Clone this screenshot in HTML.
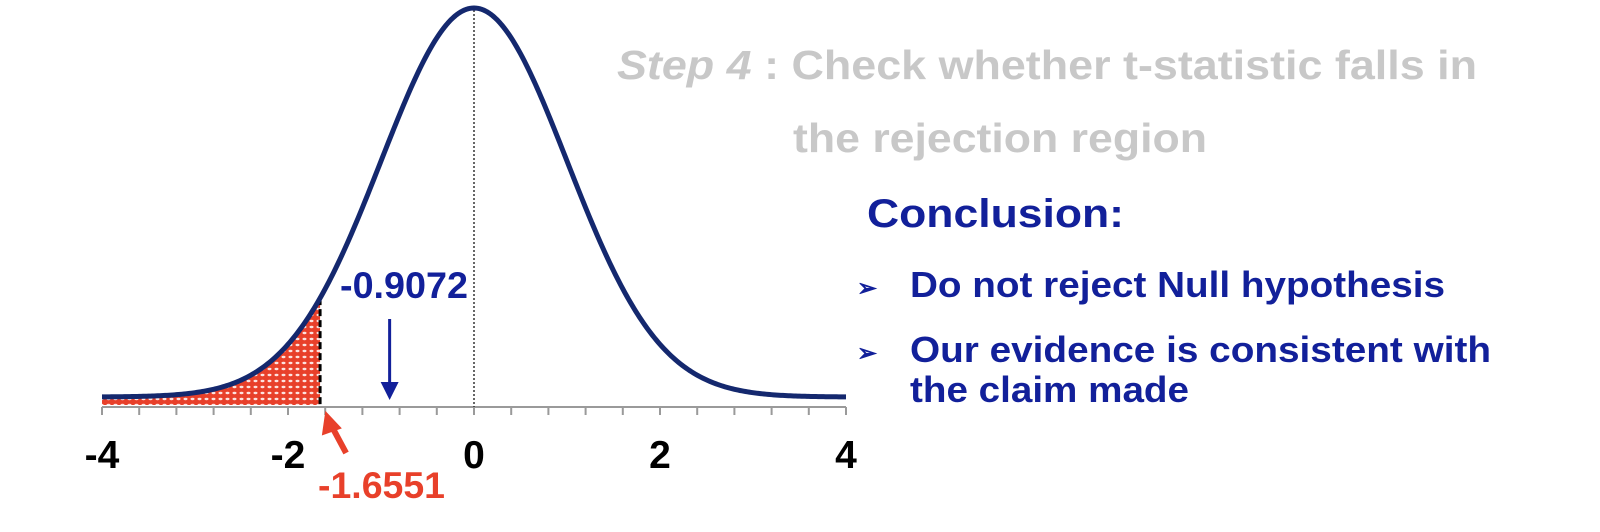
<!DOCTYPE html>
<html><head><meta charset="utf-8"><style>
html,body{margin:0;padding:0;background:#fff;width:1600px;height:532px;overflow:hidden}
svg{display:block}
text{font-family:"Liberation Sans",Arial,sans-serif;font-weight:bold}
</style></head><body>
<svg id="chart" width="1600" height="532" viewBox="0 0 1600 532">
<defs>
<pattern id="dots" width="7" height="6" patternUnits="userSpaceOnUse">
<rect width="7" height="6" fill="#e8402a"/>
<ellipse cx="3.5" cy="3" rx="2" ry="1.2" fill="#ffffff" opacity="0.85"/>
</pattern>
</defs>
<g id="plot"></g>
<text x="617" y="79" font-size="41" fill="#c8c8c8" textLength="860" lengthAdjust="spacingAndGlyphs"><tspan font-style="italic">Step 4</tspan> : Check whether t-statistic falls in</text>
<text x="793" y="152" font-size="41" fill="#c8c8c8" textLength="414" lengthAdjust="spacingAndGlyphs">the rejection region</text>
<text x="867" y="227" font-size="40" fill="#12209a" textLength="257" lengthAdjust="spacingAndGlyphs">Conclusion:</text>
<text x="857" y="296" font-size="24" fill="#12209a">➢</text>
<text x="910" y="297" font-size="36" fill="#12209a" textLength="535" lengthAdjust="spacingAndGlyphs">Do not reject Null hypothesis</text>
<text x="857" y="361" font-size="24" fill="#12209a">➢</text>
<text x="910" y="362" font-size="36" fill="#12209a" textLength="581" lengthAdjust="spacingAndGlyphs">Our evidence is consistent with</text>
<text x="910" y="402" font-size="36" fill="#12209a" textLength="279" lengthAdjust="spacingAndGlyphs">the claim made</text>
</svg>
<script>
const tickLabels = [-4, -2, 0, 2, 4];
const tStatistic = [-0.9072];
const criticalValue = [-1.6551];
const xDomain = [-4, 4];

const NS = "http://www.w3.org/2000/svg";
const plot = document.getElementById("plot");
const X0 = 102, X1 = 846, AXIS_Y = 407, BASE_Y = 397, PEAK_Y = 8;
function sx(v){ return X0 + (v - xDomain[0]) / (xDomain[1] - xDomain[0]) * (X1 - X0); }
function dens(v){ return Math.exp(-v*v/2); }
function sy(v){ return BASE_Y - (BASE_Y - PEAK_Y) * dens(v); }
function mk(tag, attrs){ const e = document.createElementNS(NS, tag); for (const k in attrs) e.setAttribute(k, attrs[k]); plot.appendChild(e); return e; }

const crit = criticalValue[0];
let d = "M" + sx(xDomain[0]) + "," + (AXIS_Y - 2);
for (let v = xDomain[0]; v <= crit; v += 0.02) d += " L" + sx(v).toFixed(2) + "," + sy(v).toFixed(2);
d += " L" + sx(crit) + "," + sy(crit) + " L" + sx(crit) + "," + (AXIS_Y - 2) + " Z";
const fill = mk("path", {d: d, fill: "url(#dots)"});



const axis = mk("line", {x1: X0, y1: AXIS_Y, x2: X1, y2: AXIS_Y, stroke: "#9a9a9a", "stroke-width": 2});


for (let i = 0; i <= 20; i++) {
  const v = xDomain[0] + i * 0.4;
  const t = mk("line", {x1: sx(v), y1: AXIS_Y, x2: sx(v), y2: AXIS_Y + 8, stroke: "#9a9a9a", "stroke-width": 2});
  
  
}
tickLabels.forEach(v => {
  const t = mk("text", {x: sx(v), y: 468, "font-size": 39, "text-anchor": "middle", fill: "#000"});
  t.textContent = String(v);
  
  
});

const cl = mk("line", {x1: sx(0), y1: PEAK_Y + 2, x2: sx(0), y2: AXIS_Y, stroke: "#333", "stroke-width": 1.5, "stroke-dasharray": "2,2"});



const cd = mk("line", {x1: sx(crit), y1: sy(crit), x2: sx(crit), y2: AXIS_Y, stroke: "#000", "stroke-width": 3, "stroke-dasharray": "7,4"});



let c = "";
for (let v = xDomain[0]; v <= xDomain[1] + 1e-9; v += 0.02) c += (c ? " L" : "M") + sx(v).toFixed(2) + "," + sy(v).toFixed(2);
const curve = mk("path", {d: c, fill: "none", stroke: "#14286e", "stroke-width": 5, "stroke-linejoin": "round"});



const ts = tStatistic[0], tx = sx(ts);
const al = mk("line", {x1: tx, y1: 319, x2: tx, y2: 385, stroke: "#12209a", "stroke-width": 3});


const ah = mk("path", {d: "M" + (tx - 9) + ",382 L" + (tx + 9) + ",382 L" + tx + ",400 Z", fill: "#12209a"});


const tl = mk("text", {x: 340, y: 298, "font-size": 37, fill: "#12209a", textLength: 128, lengthAdjust: "spacingAndGlyphs"});
tl.textContent = ts.toFixed(4);



const cx = sx(crit);
const ra = mk("line", {x1: cx + 26, y1: 453, x2: cx + 11, y2: 425, stroke: "#e8402a", "stroke-width": 6});


const rh = mk("path", {d: "M" + (cx + 6) + ",413 L" + (cx + 20) + ",428 L" + (cx + 3) + ",434 Z", fill: "#e8402a", stroke: "#e8402a", "stroke-width": 2});


const rl = mk("text", {x: 318, y: 498, "font-size": 37, fill: "#e8402a", textLength: 127, lengthAdjust: "spacingAndGlyphs"});
rl.textContent = crit.toFixed(4);


</script>
</body></html>
